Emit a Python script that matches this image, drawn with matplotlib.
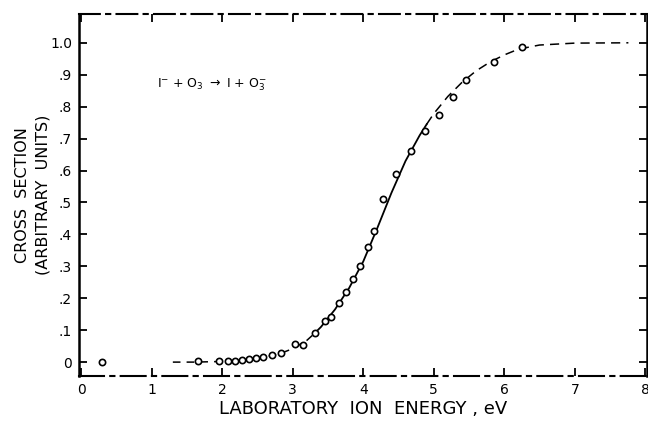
import matplotlib.pyplot as plt
import numpy as np

# measured points (open circles)
energy = [0.30, 1.65, 1.96, 2.08, 2.18, 2.28, 2.38, 2.48, 2.58, 2.70, 2.83,
          3.03, 3.15, 3.32, 3.46, 3.54, 3.65, 3.76, 3.86, 3.96, 4.07, 4.15,
          4.28, 4.46, 4.68, 4.87, 5.07, 5.27, 5.46, 5.86, 6.25]
xsect = [0.0, 0.003, 0.002, 0.004, 0.005, 0.008, 0.010, 0.012, 0.016, 0.022, 0.030,
         0.058, 0.053, 0.090, 0.130, 0.140, 0.185, 0.218, 0.260, 0.300, 0.360, 0.410,
         0.510, 0.590, 0.660, 0.725, 0.775, 0.830, 0.885, 0.940, 0.987]

# fitted curve
curve_x = [1.3, 1.6, 2.0, 2.4, 2.8, 3.0, 3.2, 3.3, 3.4, 3.6, 3.8, 4.0, 4.2,
           4.4, 4.6, 4.8, 4.9, 5.0, 5.2, 5.4, 5.6, 5.8, 6.0, 6.2, 6.5, 7.0, 7.76]
curve_y = [0.0, 0.0, 0.002, 0.008, 0.025, 0.042, 0.068, 0.088, 0.110, 0.165, 0.232,
           0.315, 0.420, 0.530, 0.630, 0.710, 0.745, 0.778, 0.832, 0.876, 0.912, 0.940,
           0.962, 0.980, 0.993, 0.999, 1.0]

xticks = [0, 1, 2, 3, 4, 5, 6, 7, 8]
yticks = [0, 0.1, 0.2, 0.3, 0.4, 0.5, 0.6, 0.7, 0.8, 0.9, 1.0]
ytick_labels = ['0', '.1', '.2', '.3', '.4', '.5', '.6', '.7', '.8', '.9', '1.0']

fig = plt.figure(figsize=(6.48, 4.26), dpi=100)
ax = fig.add_axes([0.122, 0.117, 0.876, 0.850])

cx = np.array(curve_x)
cy = np.array(curve_y)
i0, i1 = curve_x.index(3.3), curve_x.index(4.9)
ax.plot(cx[:i0 + 1], cy[:i0 + 1], color='black', lw=1.1, ls=(0, (5, 4)))
ax.plot(cx[i0:i1 + 1], cy[i0:i1 + 1], color='black', lw=1.3)
ax.plot(cx[i1:], cy[i1:], color='black', lw=1.1, ls=(0, (6, 4)))

ax.plot(energy, xsect, 'o', ms=4.5, mfc='white', mec='black', mew=1.2)

ax.text(1.08, 0.87, r'I$^{-}$ + O$_3$ $\rightarrow$ I + O$_3^{-}$',
        fontsize=9, ha='left', va='center')

ax.set_xlim(-0.03, 8.02)
ax.set_ylim(-0.044, 1.09)
ax.set_xticks(xticks)
ax.set_yticks(yticks)
ax.set_yticklabels(ytick_labels)
ax.tick_params(direction='in', length=6, width=1.3, labelsize=10,
               top=True, right=True, pad=5)

for side in ['left', 'right']:
    ax.spines[side].set_linewidth(1.8)
ax.spines['top'].set_linewidth(1.5)
ax.spines['top'].set_linestyle((0, (10, 3, 2, 3)))
ax.spines['bottom'].set_linewidth(1.5)
ax.spines['bottom'].set_linestyle((0, (12, 3, 2, 3)))

ax.set_xlabel('LABORATORY  ION  ENERGY , eV', fontsize=13, labelpad=2)
ax.set_ylabel('CROSS  SECTION\n(ARBITRARY  UNITS)', fontsize=11.5,
              linespacing=1.4, labelpad=0)

fig.savefig('out.png', dpi=100)
